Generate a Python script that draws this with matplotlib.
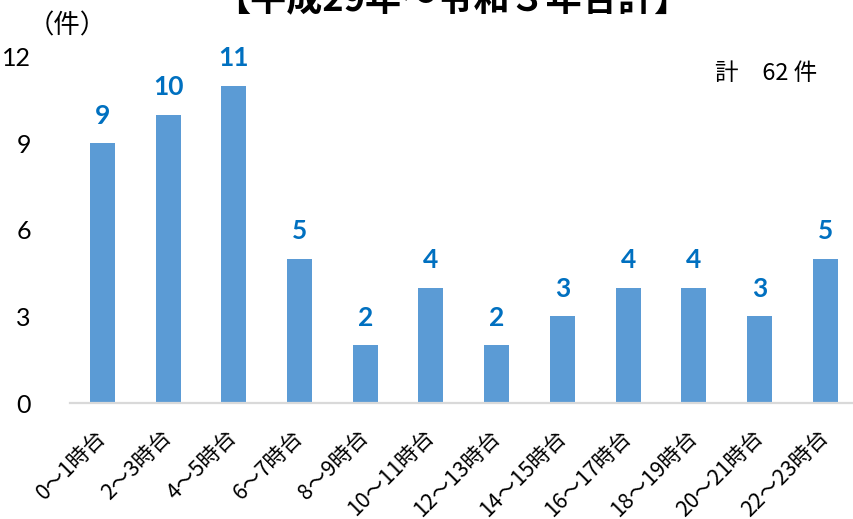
import matplotlib
matplotlib.use("Agg")
import matplotlib.pyplot as plt

categories = ["0～1時台", "2～3時台", "4～5時台", "6～7時台", "8～9時台", "10～11時台",
              "12～13時台", "14～15時台", "16～17時台", "18～19時台", "20～21時台", "22～23時台"]
values = [9, 10, 11, 5, 2, 4, 2, 3, 4, 4, 3, 5]
yticks = [0, 3, 6, 9, 12]
title = "【平成29年～令和３年合計】"
total_text = "計　62 件"
unit_text = "（件）"

JP = ["Noto Sans CJK JP", "DejaVu Sans"]
NUM = ["Lato", "Noto Sans CJK JP", "DejaVu Sans"]

fig = plt.figure(figsize=(8.54, 5.19), dpi=100)
ax = fig.add_axes([0.0816, 0.2235, 0.9184, 0.6667])

x = list(range(len(categories)))
ax.bar(x, values, width=0.38, color="#5B9BD5", zorder=2)
for xi, v in zip(x, values):
    ax.annotate(str(v), (xi, v), xytext=(0, 20), textcoords="offset points",
                ha="center", va="center", fontsize=19, fontweight="bold",
                color="#0070C0", family=NUM)

ax.set_xlim(-0.5, 11.44)
ax.set_ylim(0, 12)
ax.set_yticks(yticks)
ax.set_yticklabels([str(t) for t in yticks], family=NUM, fontsize=18)
ax.set_xticks(x)
ax.set_xticklabels(categories, rotation=45, ha="right", va="center",
                   rotation_mode="anchor", family=JP, fontsize=15.5)
ax.tick_params(axis="both", length=0)
ax.tick_params(axis="x", pad=22)
ax.tick_params(axis="y", pad=28)
for s in ["top", "right", "left"]:
    ax.spines[s].set_visible(False)
ax.spines["bottom"].set_color("#D9D9D9")
ax.spines["bottom"].set_linewidth(1.6)
ax.spines["bottom"].set_zorder(3)

fig.text(0.53, 1.0, title, ha="center", va="center", fontsize=26,
         fontweight="bold", family=JP)
fig.text(0.079, 0.95, unit_text, ha="center", va="center", fontsize=19, family=JP)
fig.text(0.897, 0.859, total_text, ha="center", va="center", fontsize=17, family=JP)

fig.savefig("out.png", dpi=100)
